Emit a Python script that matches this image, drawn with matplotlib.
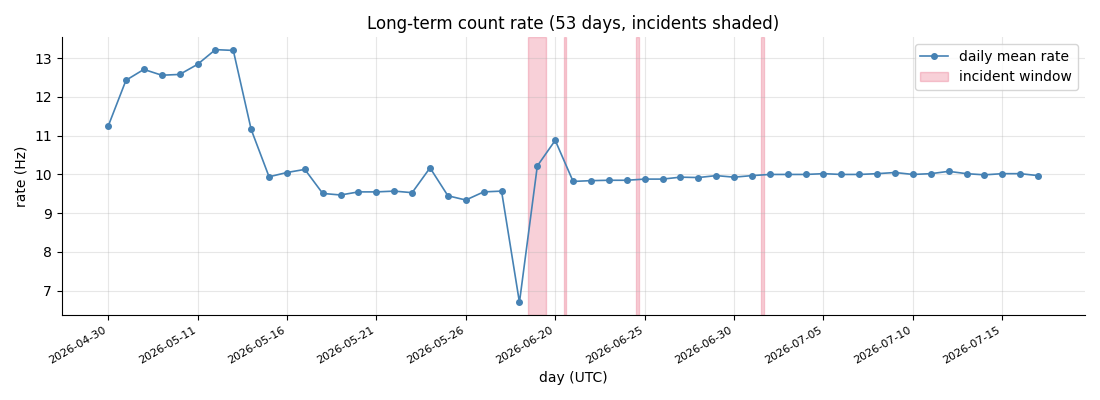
import numpy as np
import matplotlib
matplotlib.use("Agg")
from matplotlib import pyplot as plt

# daily mean count rate (Hz), one value per plotted day
rate = [11.24, 12.43, 12.71, 12.56, 12.58, 12.84, 13.22, 13.20, 11.16, 9.94,
        10.05, 10.13, 9.51, 9.47, 9.55, 9.55, 9.57, 9.53, 10.17, 9.45,
        9.34, 9.55, 9.57, 6.70, 10.22, 10.88, 9.82, 9.84, 9.85, 9.85,
        9.88, 9.88, 9.93, 9.92, 9.97, 9.93, 9.97, 10.00, 10.00, 10.00,
        10.02, 10.00, 10.00, 10.02, 10.05, 10.00, 10.02, 10.08, 10.02, 9.99,
        10.02, 10.02, 9.97]

tick_labels = ["2026-04-30", "2026-05-11", "2026-05-16", "2026-05-21", "2026-05-26",
               "2026-06-20", "2026-06-25", "2026-06-30", "2026-07-05", "2026-07-10",
               "2026-07-15"]

# incident windows (start, end) in day units
incident_start = [23.5, 25.5, 29.5, 36.5]
incident_end = [24.5, 25.62, 29.66, 36.68]

x = np.arange(len(rate))

fig, ax = plt.subplots(figsize=(11, 4), dpi=100)
ax.plot(x, rate, "-o", color="steelblue", markersize=4, linewidth=1.2,
        label="daily mean rate", zorder=3)
for i, (s, e) in enumerate(zip(incident_start, incident_end)):
    ax.axvspan(s, e, color="crimson", alpha=0.2,
               label="incident window" if i == 0 else None)

ax.set_xticks(x[::5])
ax.set_xticklabels(tick_labels, rotation=30, ha="right", fontsize=8)
ax.set_title("Long-term count rate (53 days, incidents shaded)")
ax.set_xlabel("day (UTC)")
ax.set_ylabel("rate (Hz)")
ax.grid(True, alpha=0.3)
ax.spines["top"].set_visible(False)
ax.spines["right"].set_visible(False)
ax.legend(loc="upper right")

fig.subplots_adjust(left=0.056, right=0.986, top=0.9075, bottom=0.2125)
fig.savefig("out.png")
